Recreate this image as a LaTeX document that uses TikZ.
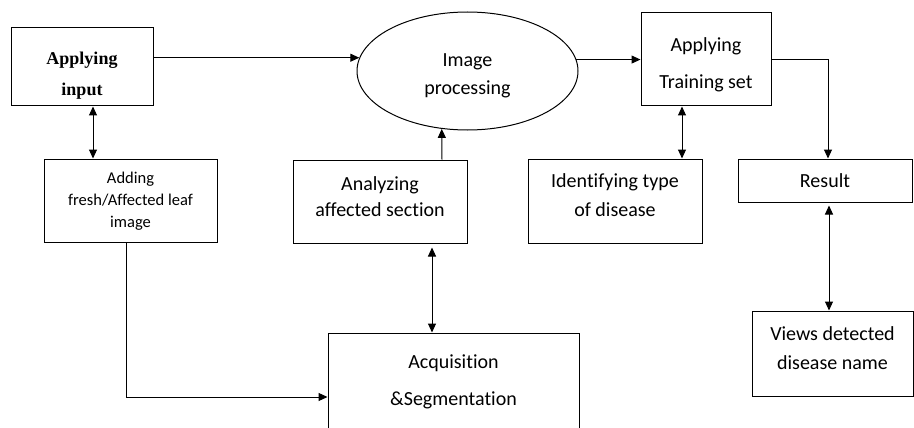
\documentclass[tikz,border=0pt]{standalone}
\usepackage{fontspec}
\setmainfont{Carlito}[Ligatures=NoCommon]
\newfontfamily\timesbf{Liberation Serif}
\usetikzlibrary{shapes.geometric,arrows.meta}

\def\bigtxt{\fontsize{20}{29}\selectfont}
\def\smalltxt{\fontsize{16.5}{22}\selectfont}

\tikzset{
  box/.style={draw,line width=1pt,inner sep=0pt},
  lbl/.style={align=center,font=\bigtxt},
  arr/.style={line width=1pt,-{Triangle[length=9pt,width=8pt]}},
  dbl/.style={line width=1pt,{Triangle[length=9pt,width=8pt]}-{Triangle[length=9pt,width=8pt]}}
}

\begin{document}
\begin{tikzpicture}[x=1pt,y=-1pt]
        \useasboundingbox (0,0) rectangle (914,428);
        % top row
        \node[box,minimum width=142,minimum height=78,
          label={[lbl,name=inputtxt,yshift=-9pt,font=\timesbf\bfseries\fontsize{18}{31}\selectfont]center:{Applying\\input}}] (input) at (82,67) {};
        \node[box,ellipse,minimum width=221,minimum height=118,
          label={[lbl,name=proctxt,yshift=-5pt]center:{Image\\[-1pt]processing}}] (proc) at (467.5,71) {};
        \node[box,minimum width=130,minimum height=93,
          label={[lbl,name=traintxt,yshift=-5pt]center:{Applying\\[8pt]Training set}}] (train) at (706,59.5) {};
        % middle row
        \node[box,minimum width=173,minimum height=83,
          label={[lbl,name=addingtxt,font=\smalltxt,yshift=-1pt]center:{Adding\\fresh/Affected leaf\\image}}] (adding) at (130.5,200.5) {};
        \node[box,minimum width=174,minimum height=83,
          label={[lbl,name=analtxt,yshift=5pt]center:{Analyzing\\[-3pt]affected section}}] (anal) at (380,201.5) {};
        \node[box,minimum width=174,minimum height=84,
          label={[lbl,name=identtxt,yshift=6pt]center:{Identifying type\\of disease}}] (ident) at (615,201) {};
        \node[box,minimum width=174,minimum height=43,
          label={[lbl,name=resulttxt]center:Result}] (result) at (825,180.5) {};
        % bottom row
        \node[box,minimum width=251,minimum height=100,
          label={[lbl,name=acqtxt,yshift=1pt]center:{Acquisition\\[8pt]\&Segmentation}}] (acq) at (453.5,383) {};
        \node[box,minimum width=161,minimum height=85,
          label={[lbl,name=viewstxt,yshift=5pt]center:{Views detected\\disease name}}] (views) at (832.5,353.5) {};

        \draw[arr] (input.east |- proc.173) -- (proc.173);
        \draw[arr] (proc.6) -- (proc.6 -| train.west);
        \draw[arr] (train.east) -| ([xshift=3pt]result.north);
        \draw[dbl] ([xshift=-24pt]train.south) -- ([xshift=-24pt]train.south |- ident.north);
        \draw[dbl] ([xshift=11pt]input.south) -- ([xshift=11pt]input.south |- adding.north);
        \draw[arr] ([xshift=62pt]anal.north) -- (proc.246);
        \draw[dbl] ([xshift=52pt,yshift=-4pt]anal.south) -- ([xshift=52pt]anal.south |- acq.north);
        \draw[arr] ([xshift=-4.5pt]adding.south) |- ([yshift=-14pt]acq.west);
        \draw[dbl] ([xshift=4pt,yshift=-3pt]result.south) -- ([xshift=4pt]result.south |- views.north);
\end{tikzpicture}
\end{document}
